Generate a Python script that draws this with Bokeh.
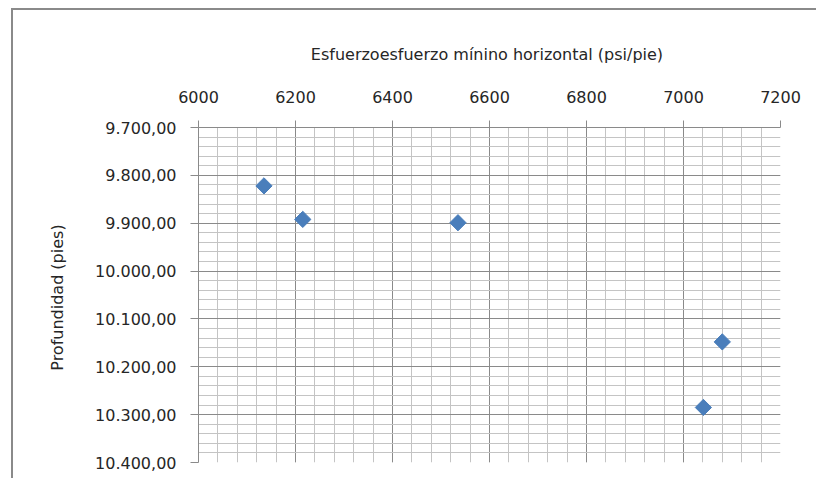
import numpy as np
from bokeh.plotting import figure
from bokeh.models import FixedTicker, Range1d, ColumnDataSource
from bokeh.embed import file_html
from bokeh.resources import INLINE

# ---- data ----
esfuerzo = [6135, 6215, 6535, 7080, 7041]          # psi/pie
profundidad = [9822, 9892, 9899, 10148, 10285]     # pies

x_ticks = [6000, 6200, 6400, 6600, 6800, 7000, 7200]
x_tick_labels = ["6000", "6200", "6400", "6600", "6800", "7000", "7200"]
y_ticks = [9700, 9800, 9900, 10000, 10100, 10200, 10300, 10400]
y_tick_labels = ["9.700,00", "9.800,00", "9.900,00", "10.000,00",
                 "10.100,00", "10.200,00", "10.300,00", "10.400,00"]

x_title = "Esfuerzoesfuerzo  mínino horizontal (psi/pie)"
y_title = "Profundidad  (pies)"

FONT = "DejaVu Sans"
TXT = "#262626"
MAJOR = "#8a8a8a"
MINOR = "#c4c4c4"
FRAME = "#8a8a8a"

x_minor = [v for v in range(x_ticks[0], x_ticks[-1] + 1, 40)]
y_minor = [v for v in range(y_ticks[0], y_ticks[-1] + 1, 20)]

p = figure(width=816, height=478, output_backend="svg", toolbar_location=None,
           x_axis_location="above",
           x_range=Range1d(x_ticks[0], x_ticks[-1]),
           y_range=Range1d(y_ticks[-1], y_ticks[0]),
           min_border_left=198, min_border_right=36,
           min_border_top=127, min_border_bottom=16)
p.outline_line_color = None
p.background_fill_color = "white"
p.border_fill_color = None
# outer chart-area frame: only its top and left edges fall inside the window
p.styles = {"background":
            f"linear-gradient({FRAME},{FRAME}) 11px 8px / 2px 100% no-repeat, "
            f"linear-gradient({FRAME},{FRAME}) 11px 8px / 100% 2px no-repeat, white"}

xa = p.xaxis[0]
xa.ticker = FixedTicker(ticks=x_ticks, minor_ticks=x_minor)
xa.major_label_overrides = dict(zip(x_ticks, x_tick_labels))
ya = p.yaxis[0]
ya.ticker = FixedTicker(ticks=y_ticks, minor_ticks=y_minor)
ya.major_label_overrides = dict(zip(y_ticks, y_tick_labels))

for ax in (xa, ya):
    ax.axis_line_color = MAJOR
    ax.major_tick_line_color = MAJOR
    ax.minor_tick_out = 0
    ax.minor_tick_in = 0
    ax.major_tick_in = 0
    ax.major_label_text_font = FONT
    ax.major_label_text_font_size = "16px"
    ax.major_label_text_color = TXT
    ax.axis_label_text_font = FONT
    ax.axis_label_text_font_size = "16px"
    ax.axis_label_text_font_style = "normal"
    ax.axis_label_text_color = TXT

xa.major_tick_out = 7
xa.major_label_standoff = 18
xa.axis_label = x_title
xa.axis_label_standoff = 24

ya.major_tick_out = 8
ya.major_label_standoff = 14
ya.axis_label = y_title
ya.axis_label_standoff = 25

for g in (p.xgrid[0], p.ygrid[0]):
    g.grid_line_color = MAJOR
    g.minor_grid_line_color = MINOR
    g.grid_line_width = 1
    g.minor_grid_line_width = 1

src = ColumnDataSource(dict(x=esfuerzo, y=profundidad))
p.scatter("x", "y", source=src, marker="square", size=11.5, angle=np.pi / 4,
          fill_color="#4a7ebb", line_color="#4a7ebb")

open("out.html", "w").write(file_html(p, INLINE))
